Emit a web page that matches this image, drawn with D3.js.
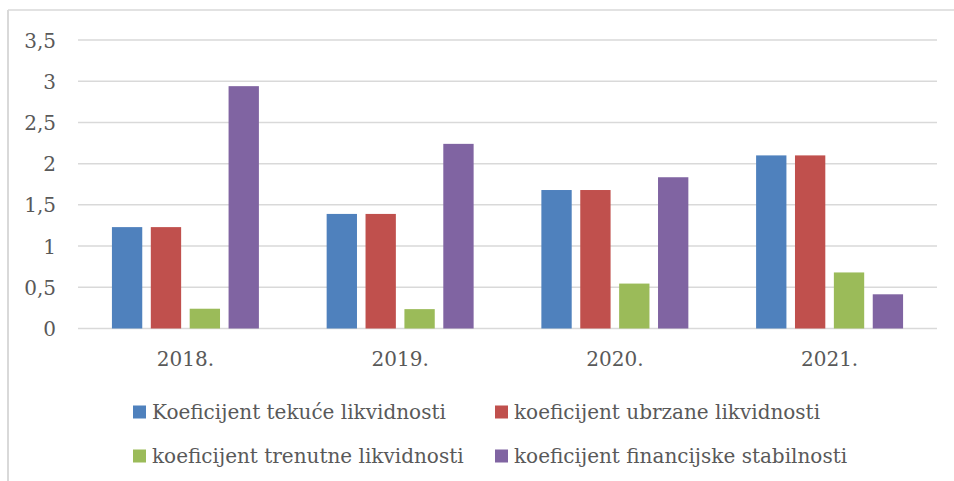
<!DOCTYPE html>
<meta charset="utf-8">
<style>
body { margin: 0; background: #fff; }
text { font-family: "DejaVu Serif", serif; fill: #595959; }
.grid line { stroke: #d9d9d9; stroke-width: 1.5px; }
</style>
<svg width="954" height="481"></svg>
<script src="https://cdnjs.cloudflare.com/ajax/libs/d3/7.8.5/d3.min.js"></script>
<script>

// data
var years = ["2018.", "2019.", "2020.", "2021."];
var seriesNames = [
  "Koeficijent tekuće likvidnosti",
  "koeficijent ubrzane likvidnosti",
  "koeficijent trenutne likvidnosti",
  "koeficijent financijske stabilnosti"
];
var tekuce = [1.23, 1.39, 1.68, 2.10];
var ubrzane = [1.23, 1.39, 1.68, 2.10];
var trenutne = [0.24, 0.235, 0.545, 0.68];
var stabilnost = [2.94, 2.24, 1.835, 0.415];
var yTicks = [0, 0.5, 1, 1.5, 2, 2.5, 3, 3.5];
var colors = ["#4f81bd", "#c0504d", "#9bbb59", "#8064a2"];

var values = [tekuce, ubrzane, trenutne, stabilnost];
var fontSize = "20px";

var svg = d3.select("svg");

// chart frame (only left + top edges visible in the crop)
svg.append("line").attr("x1", 8).attr("x2", 8).attr("y1", 10).attr("y2", 481)
    .attr("stroke", "#d9d9d9").attr("stroke-width", 2);
svg.append("line").attr("x1", 8).attr("x2", 954).attr("y1", 10).attr("y2", 10)
    .attr("stroke", "#d9d9d9").attr("stroke-width", 1.5);

var plotLeft = 78, plotRight = 937, plotTop = 40, plotBottom = 328.5;

var y = d3.scaleLinear().domain([0, 3.5]).range([plotBottom, plotTop]);

var x0 = d3.scaleBand().domain(years).range([plotLeft, plotRight])
    .paddingInner(0.3155).paddingOuter(0.158);
var x1 = d3.scaleBand().domain(d3.range(4)).range([0, x0.bandwidth()])
    .paddingInner(0.22);

// gridlines
svg.append("g").attr("class", "grid")
  .selectAll("line").data(yTicks).enter().append("line")
    .attr("x1", plotLeft).attr("x2", plotRight)
    .attr("y1", function(d) { return y(d); })
    .attr("y2", function(d) { return y(d); });

// y axis labels
var yAxis = d3.axisLeft(y).tickValues(yTicks).tickSize(0).tickPadding(0)
    .tickFormat(function(d) { return String(d).replace(".", ","); });
svg.append("g").attr("transform", "translate(56,0)").call(yAxis)
  .call(function(g) { g.select(".domain").remove(); })
  .selectAll("text").style("font-size", fontSize).attr("font-family", null)
    .attr("fill", "#595959").attr("dy", "0.35em");

// bars
var groups = svg.append("g").selectAll("g").data(years).enter().append("g")
    .attr("transform", function(d) { return "translate(" + x0(d) + ",0)"; });

groups.selectAll("rect")
  .data(function(d, i) { return values.map(function(s, k) { return {k: k, v: s[i]}; }); })
  .enter().append("rect")
    .attr("x", function(d) { return x1(d.k); })
    .attr("width", x1.bandwidth())
    .attr("y", function(d) { return y(d.v); })
    .attr("height", function(d) { return y(0) - y(d.v); })
    .attr("fill", function(d) { return colors[d.k]; });

// x axis labels
var xAxis = d3.axisBottom(x0).tickSize(0).tickPadding(0);
svg.append("g").attr("transform", "translate(0,366)").call(xAxis)
  .call(function(g) { g.select(".domain").remove(); })
  .selectAll("text").style("font-size", fontSize).attr("font-family", null)
    .attr("fill", "#595959").attr("dy", 0).attr("y", 0);

// legend, 2 x 2
var legendPos = [[133, 412], [495, 412], [133, 456], [495, 456]];
var legend = svg.append("g").selectAll("g").data(seriesNames).enter().append("g")
    .attr("transform", function(d, i) { return "translate(" + legendPos[i][0] + "," + legendPos[i][1] + ")"; });
legend.append("rect").attr("x", 0).attr("y", -6.5).attr("width", 13).attr("height", 13)
    .attr("fill", function(d, i) { return colors[i]; });
legend.append("text").attr("x", 19).attr("y", 0).attr("dy", "0.35em")
    .style("font-size", fontSize).text(function(d) { return d; });

</script>
